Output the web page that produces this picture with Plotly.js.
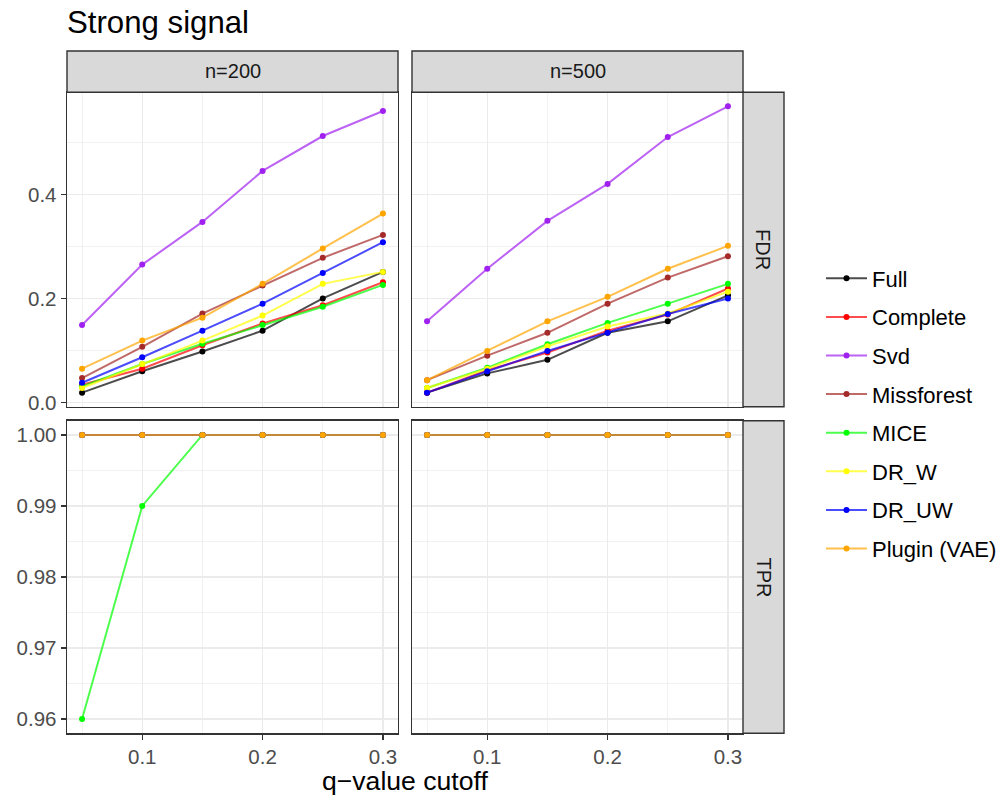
<!DOCTYPE html>
<html>
<head>
<meta charset="utf-8">
<script src="https://cdn.plot.ly/plotly-3.0.1.min.js"></script>
<style>html,body{margin:0;padding:0;background:#fff;}</style>
</head>
<body>
<div id="chart" style="width:1007px;height:805px;"></div>
<script>
// ---- data ----
const qCutoff = [0.05, 0.1, 0.15, 0.2, 0.25, 0.3];
const methods = ['Full', 'Complete', 'Svd', 'Missforest', 'MICE', 'DR_W', 'DR_UW', 'Plugin (VAE)'];
const sampleSizes = ['n=200', 'n=500'];
const metrics = ['FDR', 'TPR'];

// FDR, n=200 (rows follow `methods`)
const fdrN200 = [
  [0.019, 0.060, 0.098, 0.138, 0.200, 0.251],
  [0.034, 0.065, 0.110, 0.152, 0.187, 0.231],
  [0.149, 0.265, 0.347, 0.445, 0.512, 0.560],
  [0.047, 0.107, 0.171, 0.225, 0.278, 0.322],
  [0.031, 0.074, 0.113, 0.149, 0.184, 0.226],
  [0.028, 0.074, 0.119, 0.167, 0.228, 0.251],
  [0.038, 0.087, 0.138, 0.190, 0.249, 0.308],
  [0.065, 0.119, 0.163, 0.228, 0.296, 0.363]
];
// FDR, n=500
const fdrN500 = [
  [0.019, 0.056, 0.082, 0.134, 0.156, 0.206],
  [0.019, 0.062, 0.096, 0.138, 0.169, 0.219],
  [0.156, 0.257, 0.349, 0.420, 0.510, 0.569],
  [0.043, 0.090, 0.134, 0.190, 0.240, 0.281],
  [0.028, 0.067, 0.112, 0.153, 0.190, 0.228],
  [0.028, 0.065, 0.108, 0.146, 0.171, 0.213],
  [0.019, 0.060, 0.099, 0.134, 0.170, 0.200],
  [0.043, 0.099, 0.156, 0.203, 0.257, 0.301]
];
// TPR, n=200
const tprN200 = [
  [1, 1, 1, 1, 1, 1],
  [1, 1, 1, 1, 1, 1],
  [1, 1, 1, 1, 1, 1],
  [1, 1, 1, 1, 1, 1],
  [0.96, 0.99, 1, 1, 1, 1],
  [1, 1, 1, 1, 1, 1],
  [1, 1, 1, 1, 1, 1],
  [1, 1, 1, 1, 1, 1]
];
// TPR, n=500
const tprN500 = [
  [1, 1, 1, 1, 1, 1],
  [1, 1, 1, 1, 1, 1],
  [1, 1, 1, 1, 1, 1],
  [1, 1, 1, 1, 1, 1],
  [1, 1, 1, 1, 1, 1],
  [1, 1, 1, 1, 1, 1],
  [1, 1, 1, 1, 1, 1],
  [1, 1, 1, 1, 1, 1]
];

// ---- styles ----
const methodColors = ['#000000', '#FF0000', '#A020F0', '#A52A2A', '#00FF00', '#FFFF00', '#0000FF', '#FFA500'];
function rgba(hex, a) {
  const r = parseInt(hex.slice(1, 3), 16), g = parseInt(hex.slice(3, 5), 16), b = parseInt(hex.slice(5, 7), 16);
  return 'rgba(' + r + ',' + g + ',' + b + ',' + a + ')';
}

const W = 1007, H = 805;
const px = v => v / W;
const py = v => 1 - v / H;
const FONT = 'Liberation Sans, Arial, sans-serif';

const colDom = [[px(67), px(398)], [px(412), px(743)]];
const rowDom = [[py(406.7), py(92.3)], [py(733.3), py(420.7)]];

const panels = [
  { data: fdrN200, xa: 'x', ya: 'y' },
  { data: fdrN500, xa: 'x2', ya: 'y2' },
  { data: tprN200, xa: 'x3', ya: 'y3' },
  { data: tprN500, xa: 'x4', ya: 'y4' }
];

const traces = [];
methods.forEach((m, i) => {
  panels.forEach((p, k) => {
    traces.push({
      type: 'scatter',
      mode: 'lines+markers',
      x: qCutoff,
      y: p.data[i],
      xaxis: p.xa,
      yaxis: p.ya,
      name: m,
      legendgroup: m,
      showlegend: k === 0,
      line: { color: rgba(methodColors[i], 0.7), width: 2 },
      marker: { color: methodColors[i], size: 6 },
      hoverinfo: 'x+y+name'
    });
  });
});

const gridCol = '#EBEBEB';
const frame = { showline: true, mirror: true, linecolor: '#333333', linewidth: 1.4, zeroline: false, gridcolor: gridCol, gridwidth: 1.4 };
const tickFont = { family: FONT, size: 20.5, color: '#4D4D4D' };

function xAxis(dom, anchor, labels) {
  return Object.assign({}, frame, {
    domain: dom, anchor: anchor, range: [0.0375, 0.3125],
    tickmode: 'linear', tick0: 0, dtick: 0.1, tickformat: '.1f',
    showticklabels: labels, ticks: labels ? 'outside' : '', ticklen: 5, tickwidth: 1.4, tickcolor: '#333333',
    tickfont: tickFont,
    minor: { tickmode: 'linear', tick0: 0, dtick: 0.05, showgrid: true, gridcolor: gridCol, gridwidth: 0.7, ticks: '' }
  });
}
function yAxis(dom, anchor, labels, range, dtick, mdtick, fmt) {
  return Object.assign({}, frame, {
    domain: dom, anchor: anchor, range: range,
    tickmode: 'linear', tick0: 0, dtick: dtick, tickformat: fmt,
    showticklabels: labels, ticks: labels ? 'outside' : '', ticklen: 5, tickwidth: 1.4, tickcolor: '#333333',
    tickfont: tickFont,
    minor: { tickmode: 'linear', tick0: 0, dtick: mdtick, showgrid: true, gridcolor: gridCol, gridwidth: 0.7, ticks: '' }
  });
}

const fdrRange = [-0.008, 0.596];
const tprRange = [0.958, 1.002];

const shapes = [];
const annotations = [];
const stripFill = '#D9D9D9';
// top strips
sampleSizes.forEach((s, c) => {
  shapes.push({ type: 'rect', xref: 'paper', yref: 'paper', x0: colDom[c][0], x1: colDom[c][1], y0: py(92.3), y1: py(51),
    fillcolor: stripFill, line: { color: '#333333', width: 1.4 }, layer: 'above' });
  annotations.push({ xref: 'paper', yref: 'paper', x: (colDom[c][0] + colDom[c][1]) / 2, y: py(71.5), text: s, showarrow: false,
    xanchor: 'center', yanchor: 'middle', font: { family: FONT, size: 20, color: '#1A1A1A' } });
});
// right strips
metrics.forEach((mt, r) => {
  shapes.push({ type: 'rect', xref: 'paper', yref: 'paper', x0: px(743), x1: px(784), y0: rowDom[r][0], y1: rowDom[r][1],
    fillcolor: stripFill, line: { color: '#333333', width: 1.4 }, layer: 'above' });
  annotations.push({ xref: 'paper', yref: 'paper', x: px(763.5), y: (rowDom[r][0] + rowDom[r][1]) / 2, text: mt, showarrow: false,
    textangle: 90, xanchor: 'center', yanchor: 'middle', font: { family: FONT, size: 20, color: '#1A1A1A' } });
});
// x-axis title
annotations.push({ xref: 'paper', yref: 'paper', x: px(405), y: py(781), text: 'q\u2212value cutoff', showarrow: false,
  xanchor: 'center', yanchor: 'middle', font: { family: FONT, size: 26.6, color: '#000000' } });

const layout = {
  width: W, height: H,
  margin: { l: 0, r: 0, t: 0, b: 0 },
  paper_bgcolor: '#FFFFFF', plot_bgcolor: '#FFFFFF',
  showlegend: true,
  title: { text: 'Strong signal', x: px(67), xanchor: 'left', xref: 'paper', y: py(22), yanchor: 'middle', yref: 'paper',
    font: { family: FONT, size: 31.2, color: '#000000' } },
  legend: { x: px(821), y: py(413.5), xanchor: 'left', yanchor: 'middle', tracegroupgap: 7, itemwidth: 41,
    font: { family: FONT, size: 22, color: '#000000' }, bgcolor: 'rgba(0,0,0,0)' },
  xaxis: xAxis(colDom[0], 'y', false),
  xaxis2: xAxis(colDom[1], 'y2', false),
  xaxis3: xAxis(colDom[0], 'y3', true),
  xaxis4: xAxis(colDom[1], 'y4', true),
  yaxis: yAxis(rowDom[0], 'x', true, fdrRange, 0.2, 0.1, '.1f'),
  yaxis2: yAxis(rowDom[0], 'x2', false, fdrRange, 0.2, 0.1, '.1f'),
  yaxis3: yAxis(rowDom[1], 'x3', true, tprRange, 0.01, 0.005, '.2f'),
  yaxis4: yAxis(rowDom[1], 'x4', false, tprRange, 0.01, 0.005, '.2f'),
  shapes: shapes,
  annotations: annotations
};

Plotly.newPlot('chart', traces, layout, { staticPlot: true, displayModeBar: false });
</script>
</body>
</html>
